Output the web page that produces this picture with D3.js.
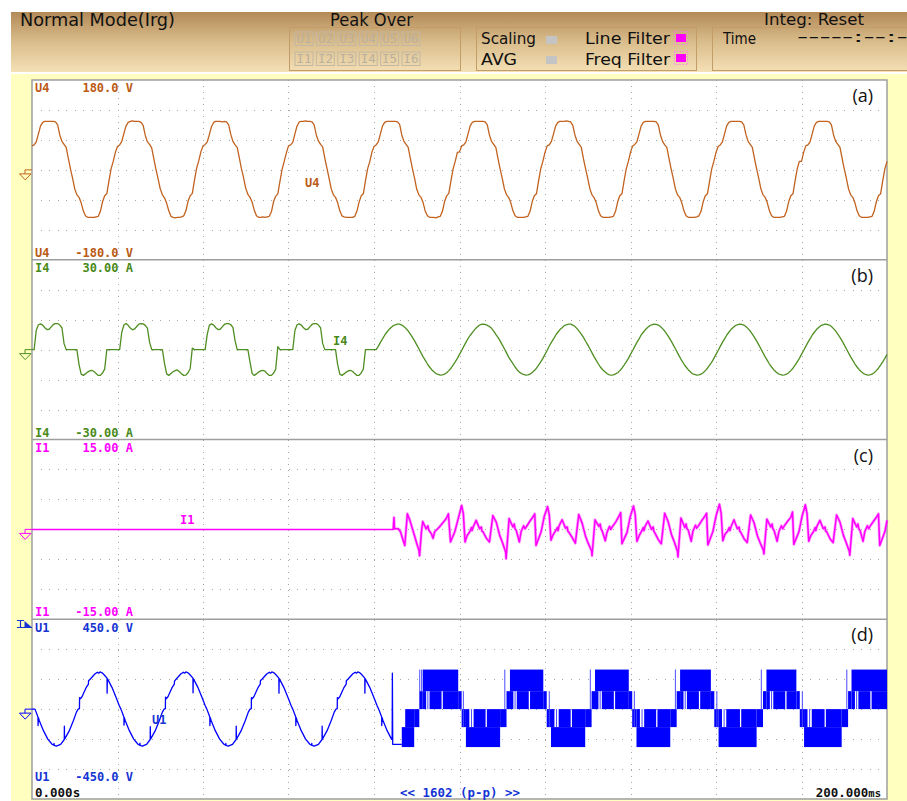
<!DOCTYPE html>
<html>
<head>
<meta charset="utf-8">
<title>Power analyzer waveforms</title>
<script src="https://cdn.jsdelivr.net/npm/d3@7/dist/d3.min.js"></script>
<style>
  body { margin: 0; background: #fff; }
  svg { display: block; }
</style>
</head>
<body>
<svg id="chart" width="907" height="801"></svg>
<script>
// ---------- data ----------
const panelTags = ['(a)', '(b)', '(c)', '(d)'];
const channels = ['U4', 'I4', 'I1', 'U1'];
const ranges = [180, 30, 15, 450];
const topLabels = ['180.0 V', '30.00 A', '15.00 A', '450.0 V'];
const bottomLabels = ['-180.0 V', '-30.00 A', '-15.00 A', '-450.0 V'];
const peakU = ['U1', 'U2', 'U3', 'U4', 'U5', 'U6'];
const peakI = ['I1', 'I2', 'I3', 'I4', 'I5', 'I6'];

// U4 [V], one sample every 0.5 ms from 0 to 200 ms
const u4 = [
  48,50,56,72,88,95,97,97,97,97,97,96,90,70,57,51,45,23,2,-17,-38,-50,-55,-66,-82,-92,-95,-95,-95,-95,-94,-93,-83,-64,-52,-48,-22,2,17,35,
  47,50,57,73,88,95,97,98,97,97,97,95,89,69,56,51,44,22,1,-18,-38,-50,-56,-67,-82,-93,-95,-96,-95,-95,-94,-92,-82,-63,-52,-47,-21,3,18,36,
  48,51,56,71,87,95,97,97,97,96,97,96,90,71,57,50,45,24,2,-16,-37,-49,-55,-65,-81,-92,-95,-95,-94,-95,-94,-93,-84,-64,-53,-48,-23,1,17,34,
  48,50,55,72,88,96,97,97,98,97,97,96,90,70,58,51,46,23,3,-17,-38,-50,-55,-66,-82,-92,-94,-95,-95,-95,-95,-93,-83,-65,-52,-48,-22,2,16,35,
  47,50,56,72,88,95,97,97,97,97,97,96,91,70,57,51,45,23,2,-17,-39,-50,-55,-66,-83,-92,-95,-95,-95,-96,-94,-93,-83,-64,-52,-47,-22,2,17,35,
  36,48,50,56,72,88,95,97,97,97,97,97,96,90,70,57,51,45,23,2,-17,-38,-50,-55,-66,-82,-92,-95,-95,-95,-95,-94,-93,-83,-64,-52,-48,-22,2,17,
  35,48,50,57,72,88,95,97,97,97,98,97,96,89,70,57,51,45,22,2,-17,-38,-50,-56,-66,-82,-92,-95,-95,-95,-95,-94,-93,-83,-64,-52,-48,-22,2,17,
  35,48,51,56,72,88,95,97,97,97,97,97,96,90,70,57,50,45,23,2,-17,-38,-50,-55,-66,-82,-92,-95,-95,-95,-95,-94,-92,-83,-64,-52,-48,-23,2,17,
  35,47,50,56,72,88,95,97,97,97,97,97,96,90,71,57,51,45,23,2,-17,-38,-50,-55,-66,-82,-92,-95,-95,-95,-95,-94,-93,-83,-64,-52,-48,-22,2,17,
  17,35,48,50,56,72,88,95,97,97,97,97,97,96,90,70,57,51,45,23,2,-17,-38,-50,-55,-66,-82,-92,-95,-95,-95,-95,-94,-93,-83,-64,-52,-48,-22,2,
  17
];

// I4 [A], one sample every 0.5 ms from 0 to 200 ms
const i4 = [
  0,0,6.5,8.3,8.6,8.2,7.3,6.7,6.8,7.6,8.4,8.7,8.7,8.2,7.3,2,0,0,0,0,0,0,-5,-8.2,-8.6,-8.1,-7.5,-7.1,-6.9,-7.3,-8,-8.6,-8.6,-7.8,-6.5,0,0,0,0,0,
  0,0,5.8,8.2,8.7,8.1,7.2,6.6,6.9,7.7,8.5,8.7,8.6,8.1,7.2,2.5,0,0,0,0,0,0,-4.6,-8.1,-8.6,-8,-7.4,-7,-6.8,-7.4,-8.1,-8.6,-8.5,-7.7,-6.4,0.5,0,0,0,0,
  0,0,5.2,8.2,8.6,8.2,7.3,6.7,6.8,7.6,8.4,8.7,8.7,8.3,7.4,3,0,0,0,0,0,0,-4.2,-8,-8.6,-8.1,-7.5,-7.1,-6.9,-7.2,-8,-8.6,-8.6,-7.9,-6.6,1,0,0,0,0,
  0,0,0,6.4,8.3,8.6,8.2,7.3,6.7,6.8,7.6,8.4,8.7,8.7,8.2,7.3,2,0,0,0,0,0,0,-5,-8.2,-8.6,-8.1,-7.5,-7.1,-6.9,-7.3,-8,-8.6,-8.6,-7.8,-6.5,0,0,0,0,
  0,0,1.1,2.4,3.6,4.8,5.8,6.7,7.4,8,8.3,8.5,8.5,8.2,7.7,7,6.2,5.2,4.1,2.9,1.6,0.3,-1.1,-2.4,-3.6,-4.8,-5.8,-6.7,-7.4,-8,-8.3,-8.5,-8.4,-8.2,-7.7,-7,-6.2,-5.2,-4.1,-2.9,
  -1.6,-0.3,1.1,2.4,3.7,4.8,5.7,6.6,7.4,8,8.4,8.5,8.4,8.1,7.7,7.1,6.2,5.1,4.1,2.9,1.6,0.3,-1.1,-2.5,-3.6,-4.7,-5.8,-6.8,-7.5,-8,-8.3,-8.5,-8.4,-8.2,-7.6,-7,-6.2,-5.2,-4.1,-2.9,
  -1.6,-0.3,1.2,2.4,3.6,4.8,5.8,6.7,7.3,8,8.3,8.5,8.5,8.2,7.7,7,6.1,5.2,4.1,2.8,1.6,0.3,-1.1,-2.4,-3.6,-4.8,-5.9,-6.7,-7.4,-8,-8.4,-8.5,-8.4,-8.1,-7.7,-7,-6.2,-5.2,-4.1,-2.9,
  -1.6,-0.3,1.1,2.4,3.6,4.9,5.8,6.7,7.4,8,8.3,8.5,8.4,8.2,7.7,7,6.2,5.2,4.1,2.9,1.6,0.3,-1.1,-2.4,-3.7,-4.8,-5.8,-6.7,-7.4,-8.1,-8.3,-8.5,-8.4,-8.2,-7.7,-7,-6.2,-5.2,-4.2,-2.9,
  -1.6,-0.3,1.1,2.4,3.6,4.8,5.8,6.7,7.4,8,8.3,8.5,8.4,8.2,7.7,7,6.2,5.2,4.1,2.9,1.6,0.3,-1.1,-2.4,-3.6,-4.8,-5.8,-6.7,-7.4,-8,-8.3,-8.5,-8.4,-8.2,-7.7,-7,-6.2,-5.2,-4.1,-2.9,
  -1.6,-0.3,1.1,2.4,3.6,4.8,5.8,6.7,7.4,8,8.3,8.5,8.4,8.2,7.7,7,6.2,5.2,4.1,2.9,1.6,0.3,-1.1,-2.4,-3.6,-4.8,-5.8,-6.7,-7.4,-8,-8.3,-8.5,-8.4,-8.2,-7.7,-7,-6.2,-5.2,-4.1,-2.9,
  -1.6
];

// I1 [ms, A] breakpoints
const i1 = [
  [0,0],[84.5,0],[84.68,2],[84.8,0.1],[85.66,0.1],[86.2,-0.4],[86.8,-1.8],[87.2,-2.7],[87.8,2.6],[88.4,1.5],[89.2,-0.4],[89.9,-2.1],[90.5,-3.5],[90.66,-4.4],
  [91.1,-0.4],[91.4,1.3],[92.2,0.1],[92.6,0.6],[92.8,-0.1],[93.4,-0.7],[93.8,-1.5],[94.2,-0.4],[95.3,0.4],[96.9,1.8],[97.4,2.6],[97.9,-2.1],[98.9,-0.4],[99.7,1.8],[100.5,4],
  [100.9,2.6],[101.3,-2.1],[101.8,-1],[102.4,-0.4],[102.8,0.3],[102.95,-0.2],[103.2,0.4],[103.9,1.5],[104.7,0.1],[105.1,0.4],[105.25,-0.3],[105.5,-0.4],[106.3,-1.5],
  [107,-2.1],[107.8,2.3],[108.6,1.2],[109.4,-1],[110,-2.1],[110.8,-3.8],[110.9,-4.9],[111.6,1.8],[112.5,0.4],[112.8,0.9],[113,0.1],[113.3,-0.2],[114,-2.1],[114.4,-0.4],
  [115,0.6],[115.3,0.1],[115.6,0.4],[116.5,1.4],[117.2,2.1],[117.6,2.6],[117.9,-2.7],[119.1,-0.4],[119.8,2.1],[120.6,3.8],
  [121,2.4],[121.4,-1.8],[121.9,-0.9],[122.5,-0.2],[122.9,0.3],[123.05,-0.2],[123.3,0.6],[124,1.6],[124.8,0.2],[125.2,0.4],[125.35,-0.3],[125.6,-0.5],[126.4,-1.4],
  [127.1,-2.3],[127.9,2.5],[128.7,1],[129.5,-1.2],[130.1,-2.3],[130.9,-3.6],[131,-4.4],[131.7,1.6],[132.6,0.5],[132.9,0.9],[133.1,0.1],[133.4,-0.3],[134.1,-1.9],
  [134.5,-0.5],[135.1,0.5],[135.4,0],[135.8,0.5],[136.6,1.3],[137.3,2.2],[137.7,2.8],[138,-2.4],[139.2,-0.5],[139.9,2],[140.7,3.9],
  [141.1,2.5],[141.5,-2],[142,-1.1],[142.6,-0.3],[143,0.3],[143.15,-0.2],[143.4,0.5],[144.1,1.4],[144.9,0],[145.3,0.4],[145.45,-0.3],[145.7,-0.6],[146.5,-1.7],
  [147.2,-2.4],[148,2.7],[148.8,1.3],[149.6,-0.9],[150.2,-2],[151,-3.7],[151.1,-4.6],[151.8,1.9],[152.7,0.3],[153,0.9],[153.2,0.1],[153.5,-0.1],[154.2,-2],
  [154.6,-0.3],[155.2,0.7],[155.5,0.2],[155.8,0.5],[156.7,1.5],[157.4,2.2],[157.8,2.7],[158.1,-2.6],[159.3,-0.3],[160,2.2],[160.8,4.2],
  [161.2,2.7],[161.6,-1.9],[162.1,-0.8],[162.7,-0.3],[163.1,0.3],[163.25,-0.2],[163.5,0.4],[164.2,1.6],[165,0.1],[165.4,0.4],[165.55,-0.3],[165.8,-0.5],[166.6,-1.6],
  [167.3,-2.2],[168.1,2.4],[168.9,1.1],[169.7,-1.1],[170.3,-2.2],[171.1,-3.5],[171.2,-4.1],[171.9,1.7],[172.8,0.4],[173.1,0.9],[173.3,0.1],[173.6,-0.2],[174.3,-2],
  [174.7,-0.4],[175.3,0.6],[175.6,0.1],[175.9,0.5],[176.8,1.4],[177.5,2],[177.9,2.9],[178.2,-2.5],[179.4,-0.4],[180.1,2.1],[180.9,4.1],
  [181.3,2.6],[181.7,-2],[182.2,-1],[182.8,-0.4],[183.2,0.3],[183.35,-0.2],[183.6,0.5],[184.3,1.5],[185.1,0.1],[185.5,0.4],[185.65,-0.3],[185.9,-0.4],[186.7,-1.6],
  [187.4,-2.2],[188.2,2.4],[189,1.2],[189.8,-1],[190.4,-2.1],[191.2,-3.7],[191.3,-4.3],[192,1.8],[192.9,0.4],[193.2,0.9],[193.4,0.1],[193.7,-0.2],[194.4,-2],
  [194.8,-0.4],[195.4,0.6],[195.7,0.1],[196,0.5],[196.9,1.4],[197.6,2.1],[198,2.6],[198.3,-2.7],[199.5,-0.4],[200,1.5]
];

// U1 [ms, V] breakpoints before the converter starts switching
const u1 = [
  [0,0],[0.7,0],[1.2,-28],[1.4,-40],[1.42,-82],[1.48,-42],[1.7,-57],[2.7,-109],[3.7,-150],[4.7,-176],[5.1,-181],[5.15,-172],[5.2,-182],[5.7,-185],[6.7,-176],
  [7.55,-152],[7.57,-85],[7.62,-150],[7.7,-148],[8.7,-109],[9.7,-57],[10.4,-15],[10.8,0],[11.1,2],[11.13,58],[11.3,52],[11.7,62],[12.7,109],[13.2,125],[13.23,142],
  [13.7,152],[14.7,176],[15.3,185],[15.6,180],[15.9,186],[16.3,183],[16.7,176],[17.55,155],[17.57,80],[17.62,152],[17.7,150],[18.7,109],[19.7,57],[20.4,18],
  [20.8,0],[21.3,-28],[21.5,-40],[21.52,-80],[21.58,-42],[21.8,-57],[22.8,-109],[23.8,-150],[24.8,-176],[25.2,-181],[25.25,-170],[25.3,-182],[25.8,-185],[26.8,-176],
  [27.65,-152],[27.67,-88],[27.72,-150],[27.8,-148],[28.8,-109],[29.8,-57],[30.5,-15],[30.9,0],[31.2,2],[31.23,60],[31.4,52],[31.8,62],[32.8,109],[33.3,125],[33.33,140],
  [33.8,152],[34.8,176],[35.4,185],[35.7,180],[36,186],[36.4,183],[36.8,176],[37.65,155],[37.67,82],[37.72,152],[37.8,150],[38.8,109],[39.8,57],[40.5,18],
  [40.9,0],[41.4,-28],[41.6,-40],[41.62,-82],[41.68,-42],[41.9,-57],[42.9,-109],[43.9,-150],[44.9,-176],[45.3,-181],[45.35,-172],[45.4,-182],[45.9,-185],[46.9,-176],
  [47.75,-152],[47.77,-85],[47.82,-150],[47.9,-148],[48.9,-109],[49.9,-57],[50.6,-15],[51,0],[51.3,2],[51.33,58],[51.5,52],[51.9,62],[52.9,109],[53.4,125],[53.43,142],
  [53.9,152],[54.9,176],[55.5,185],[55.8,180],[56.1,186],[56.5,183],[56.9,176],[57.75,155],[57.77,80],[57.82,152],[57.9,150],[58.9,109],[59.9,57],[60.6,18],
  [61,0],[61.5,-28],[61.7,-40],[61.72,-82],[61.78,-42],[62,-57],[63,-109],[64,-150],[65,-176],[65.4,-181],[65.45,-172],[65.5,-182],[66,-185],[67,-176],
  [67.85,-152],[67.87,-85],[67.92,-150],[68,-148],[69,-109],[70,-57],[70.7,-15],[71.1,0],[71.4,2],[71.43,58],[71.6,52],[72,62],[73,109],[73.5,125],[73.53,142],
  [74,152],[75,176],[75.6,185],[75.9,180],[76.2,186],[76.6,183],[77,176],[77.85,155],[77.87,80],[77.92,152],[78,150],[79,109],[80,57],[80.7,18],
  [81.1,0],[81.6,-28],[81.8,-40],[81.82,-82],[81.88,-42],[82.1,-57],[83.1,-109],[84.1,-150],[84.25,-152],[84.3,180],[84.38,-176],[86.5,-176]
];

// U1 switching blocks after 86.5 ms: [start ms, end ms, low V, high V]
const u1Blocks = [
  [86.5,89.4,-190,-90],[87.3,89.4,-90,0],[89.4,90.6,-90,0],
  [90.6,91.4,0,90],[91.4,99.7,90,198],[91.4,92.2,0,90],[93,95.8,0,90],[96.1,99.7,0,90],[99.7,100.5,0,90],
  [100.5,101.5,-90,0],[101.5,109.5,-190,-90],[101.5,102.3,-90,0],[103.3,106.1,-90,0],[106.4,109.5,-90,0],[109.5,111,-90,0],
  [111,111.8,0,90],[111.8,119.6,90,198],[111.8,112.6,0,90],[113.4,116.2,0,90],[116.5,119.6,0,90],[119.6,120.4,0,90],
  [120.4,121.4,-90,0],[121.4,129.4,-190,-90],[121.4,122.2,-90,0],[123.2,126,-90,0],[126.3,129.4,-90,0],[129.4,130.9,-90,0],
  [130.9,131.7,0,90],[131.7,139.6,90,198],[131.7,132.5,0,90],[133.3,136.1,0,90],[136.4,139.6,0,90],[139.6,140.4,0,90],
  [140.4,141.4,-90,0],[141.4,149.3,-190,-90],[141.4,142.2,-90,0],[143.2,146,-90,0],[146.3,149.3,-90,0],[149.3,150.8,-90,0],
  [150.8,151.6,0,90],[151.6,158.8,90,198],[151.6,152.4,0,90],[153.2,156,0,90],[156.3,158.8,0,90],[158.8,159.6,0,90],
  [159.6,160.6,-90,0],[160.6,169.5,-190,-90],[160.6,161.4,-90,0],[162.4,165.6,-90,0],[165.9,169.5,-90,0],[169.5,171,-90,0],
  [171,171.8,0,90],[171.8,178.8,90,198],[171.8,172.6,0,90],[173.4,176.2,0,90],[176.5,178.8,0,90],[178.8,179.6,0,90],
  [179.6,180.6,-90,0],[180.6,189.4,-190,-90],[180.6,181.4,-90,0],[182.4,185.4,-90,0],[185.7,189.4,-90,0],[189.4,190.9,-90,0],
  [190.9,191.7,0,90],[191.7,200,90,198],[191.7,192.5,0,90],[193.3,196.1,0,90],[196.4,200,0,90]
];

// thin switching spikes: [ms, low V, high V]
const u1Spikes = [
  [90.7,90,198],[91.15,90,198],[92.6,0,90],[100.9,-90,90],[102.8,-90,0],[110.6,0,198],[113,0,90],[121,-90,90],[122.7,-90,0],
  [130.6,0,198],[132.9,0,90],[140.9,-90,90],[142.7,-90,0],[150.5,0,198],[152.8,0,90],[160.2,-90,90],[161.9,-90,0],
  [170.6,0,198],[173,0,90],[180.2,-90,90],[181.9,-90,0],[190.6,0,198],[192.9,0,90]
];

// ---------- layout ----------
const svg = d3.select('#chart');
const plot = { left: 32, right: 887, top: 80, bottom: 799 };
const panelH = (plot.bottom - plot.top) / 4;
const mono = "'DejaVu Sans Mono', 'Liberation Mono', monospace";
const hdrFont = "'Liberation Sans Narrow', 'DejaVu Sans Condensed', 'Liberation Sans', sans-serif";

const traceColors = ['#c2621f', '#4f8f22', '#ff00ff', '#0000ff'];
const textColors = ['#bb5a14', '#4a8a1a', '#ff00ff', '#1434d4'];

const x = d3.scaleLinear().domain([0, 200]).range([plot.left, plot.right]);
const ys = ranges.map((r, i) => d3.scaleLinear()
  .domain([-r, r])
  .range([plot.top + (i + 1) * panelH, plot.top + i * panelH]));

// header bar
const defs = svg.append('defs');
const grad = defs.append('linearGradient').attr('id', 'hdr')
  .attr('x1', 0).attr('y1', 0).attr('x2', 0).attr('y2', 1);
grad.append('stop').attr('offset', '0%').attr('stop-color', '#b38a58');
grad.append('stop').attr('offset', '50%').attr('stop-color', '#dabd8c');
grad.append('stop').attr('offset', '100%').attr('stop-color', '#f4e0b5');

svg.append('rect').attr('x', 11).attr('y', 12).attr('width', 896).attr('height', 60).attr('fill', 'url(#hdr)');
svg.append('rect').attr('x', 11).attr('y', 74).attr('width', 896).attr('height', 727).attr('fill', '#ffffc0');

// header boxes
[[289, 460], [476, 696], [712, 920]].forEach(([a, b]) => {
  svg.append('rect').attr('x', a + 0.5).attr('y', 27.5).attr('width', b - a).attr('height', 43)
    .attr('fill', 'none').attr('stroke', '#c49c68').attr('stroke-width', 1);
});

function hText(txt, tx, ty, len, size) {
  svg.append('text').attr('x', tx).attr('y', ty)
    .attr('font-family', hdrFont).attr('font-size', size).attr('fill', '#111')
    .attr('textLength', len).attr('lengthAdjust', 'spacingAndGlyphs')
    .text(txt);
}
hText('Normal Mode(Irg)', 20, 25.5, 155, 17);
hText('Peak Over', 330, 25.5, 83, 17);
hText('Integ: Reset', 764, 25, 100, 16);
hText('Scaling', 481, 43.5, 55, 15.5);
hText('AVG', 481, 64.5, 36, 15.5);
hText('Line  Filter', 585, 43.5, 85, 15.5);
hText('Freq Filter', 585, 64.5, 85, 15.5);
hText('Time', 723, 43.5, 33, 15.5);
hText('-----:--:--', 797, 42, 122, 15);

// peak-over indicators
[peakU, peakI].forEach((row, r) => {
  const g = svg.append('g').selectAll('g').data(row).join('g')
    .attr('transform', (d, k) => `translate(${295 + k * 21.4},${32 + r * 20})`);
  g.append('rect').attr('width', 18).attr('height', 13.5)
    .attr('fill', 'none').attr('stroke', '#c2b8a4').attr('stroke-width', 1);
  g.append('text').attr('x', 9).attr('y', 11).attr('text-anchor', 'middle')
    .attr('font-family', mono).attr('font-size', 12).attr('fill', '#b9b0a0')
    .attr('textLength', 15).attr('lengthAdjust', 'spacingAndGlyphs')
    .text(d => d);
});

// status squares
[36, 56].forEach(yy => svg.append('rect').attr('x', 546).attr('y', yy).attr('width', 11).attr('height', 8).attr('fill', '#c4c4c4'));
[33, 53].forEach(yy => {
  svg.append('rect').attr('x', 674.5).attr('y', yy - 1.5).attr('width', 13).attr('height', 13)
    .attr('fill', 'none').attr('stroke', '#ff66ff').attr('stroke-width', 1).attr('stroke-dasharray', '1,2');
  svg.append('rect').attr('x', 676).attr('y', yy + 1).attr('width', 10).attr('height', 8).attr('fill', '#ff00ff');
});

// plot area
svg.append('rect').attr('x', plot.left).attr('y', plot.top)
  .attr('width', plot.right - plot.left).attr('height', plot.bottom - plot.top)
  .attr('fill', '#fff');

// dotted grid
const grid = svg.append('g').attr('stroke', '#a6a6a6').attr('stroke-width', 1).attr('shape-rendering', 'crispEdges');
grid.selectAll('line.v').data(x.ticks(10).slice(1, -1)).join('line')
  .attr('x1', d => Math.round(x(d)) + 0.5).attr('x2', d => Math.round(x(d)) + 0.5)
  .attr('y1', plot.top).attr('y2', plot.bottom)
  .attr('stroke-dasharray', '1,5');
ys.forEach((y, i) => {
  const r = ranges[i];
  grid.append('g').selectAll('line').data(d3.range(-r + r / 3, r - 1, r / 3)).join('line')
    .attr('x1', plot.left + 8.55).attr('x2', plot.right)
    .attr('y1', d => Math.round(y(d)) + 0.5).attr('y2', d => Math.round(y(d)) + 0.5)
    .attr('stroke-dasharray', '1,7.55');
});

// panel frames
const frame = svg.append('g').attr('stroke', '#9e9e9e').attr('stroke-width', 1.5).attr('fill', 'none');
frame.append('rect').attr('x', plot.left).attr('y', plot.top)
  .attr('width', plot.right - plot.left).attr('height', plot.bottom - plot.top);
frame.selectAll('line').data([1, 2, 3]).join('line')
  .attr('x1', plot.left).attr('x2', plot.right)
  .attr('y1', d => plot.top + d * panelH).attr('y2', d => plot.top + d * panelH);

// traces
const lineU4 = d3.line().x((d, k) => x(k * 0.5)).y(d => ys[0](d));
const lineI4 = d3.line().x((d, k) => x(k * 0.5)).y(d => ys[1](d));
const lineI1 = d3.line().x(d => x(d[0])).y(d => ys[2](d[1]));
const lineU1 = d3.line().x(d => x(d[0])).y(d => ys[3](d[1]));

svg.append('path').attr('d', lineU4(u4)).attr('fill', 'none')
  .attr('stroke', traceColors[0]).attr('stroke-width', 1.3).attr('stroke-linejoin', 'round');
svg.append('path').attr('d', lineI4(i4)).attr('fill', 'none')
  .attr('stroke', traceColors[1]).attr('stroke-width', 1.3).attr('stroke-linejoin', 'round');
svg.append('path').attr('d', lineI1(i1.filter(d => d[0] >= 84.5))).attr('fill', 'none')
  .attr('stroke', traceColors[2]).attr('stroke-width', 3).attr('stroke-opacity', 0.35).attr('stroke-linejoin', 'round');
svg.append('path').attr('d', lineI1(i1)).attr('fill', 'none')
  .attr('stroke', traceColors[2]).attr('stroke-width', 1.5).attr('stroke-linejoin', 'round');
svg.append('path').attr('d', lineU1(u1)).attr('fill', 'none')
  .attr('stroke', traceColors[3]).attr('stroke-width', 1.3).attr('stroke-linejoin', 'round');

svg.append('g').selectAll('rect').data(u1Blocks).join('rect')
  .attr('x', d => x(d[0])).attr('width', d => x(d[1]) - x(d[0]))
  .attr('y', d => ys[3](d[3])).attr('height', d => ys[3](d[2]) - ys[3](d[3]))
  .attr('fill', traceColors[3]);
svg.append('g').selectAll('line').data(u1Spikes).join('line')
  .attr('x1', d => x(d[0])).attr('x2', d => x(d[0]))
  .attr('y1', d => ys[3](d[1])).attr('y2', d => ys[3](d[2]))
  .attr('stroke', '#4a4aff').attr('stroke-width', 1);

// ground markers and range labels
ys.forEach((y, i) => {
  const z = y(0);
  const top = plot.top + i * panelH;
  const bot = plot.top + (i + 1) * panelH;
  svg.append('path').attr('d', `M${plot.left},${z}H25V${z + 4}`)
    .attr('fill', 'none').attr('stroke', traceColors[i]).attr('stroke-width', 1);
  svg.append('path').attr('d', `M19.5,${z + 4}H31L25.2,${z + 10}Z`)
    .attr('fill', 'none').attr('stroke', traceColors[i]).attr('stroke-width', 1);

  const lab = svg.append('g').attr('font-family', mono).attr('font-size', 12)
    .attr('font-weight', 'bold').attr('fill', textColors[i]);
  const bBase = i === 3 ? bot - 18 : bot - 3;
  lab.append('text').attr('x', 35).attr('y', top + 12.3).text(channels[i]);
  lab.append('text').attr('x', 133).attr('y', top + 12.3).attr('text-anchor', 'end').text(topLabels[i]);
  lab.append('text').attr('x', 35).attr('y', bBase).text(channels[i]);
  lab.append('text').attr('x', 133).attr('y', bBase).attr('text-anchor', 'end').text(bottomLabels[i]);

  svg.append('text').attr('x', 873).attr('y', top + 22)
    .attr('text-anchor', 'end').attr('font-family', "'Open Sans', 'Liberation Sans', sans-serif")
    .attr('font-size', 18).attr('fill', '#111').text(panelTags[i]);
});

// trace names on the waveforms
const traceNames = svg.append('g').attr('font-family', mono).attr('font-size', 12).attr('font-weight', 'bold');
traceNames.append('text').attr('x', 305).attr('y', 187).attr('fill', textColors[0]).text('U4');
traceNames.append('text').attr('x', 333).attr('y', 345).attr('fill', textColors[1]).text('I4');
traceNames.append('text').attr('x', 180).attr('y', 524).attr('fill', textColors[2]).text('I1');
traceNames.append('text').attr('x', 152).attr('y', 724).attr('fill', textColors[3]).text('U1');

// trigger mark
const trig = svg.append('g').attr('stroke', '#1434d4').attr('stroke-width', 1.2).attr('fill', 'none');
trig.append('path').attr('d', 'M17,620.5H24M20.5,620.5V627.5M17,627.5H32');
svg.append('path').attr('d', 'M24.5,621L31.5,627H24.5Z').attr('fill', '#1434d4');

// time axis labels
const foot = svg.append('g').attr('font-family', mono).attr('font-size', 12.5).attr('font-weight', 'bold');
foot.append('text').attr('x', 35).attr('y', 796.5).attr('fill', '#111').text('0.000s');
foot.append('text').attr('x', 400).attr('y', 796.5).attr('fill', '#1434d4')
  .attr('textLength', 120).attr('lengthAdjust', 'spacingAndGlyphs').text('<< 1602 (p-p) >>');
const endLab = foot.append('text').attr('x', 881).attr('y', 796.5).attr('text-anchor', 'end').attr('fill', '#111');
endLab.append('tspan').text('200.000');
endLab.append('tspan').attr('font-size', 10.5).text('ms');
</script>
</body>
</html>
